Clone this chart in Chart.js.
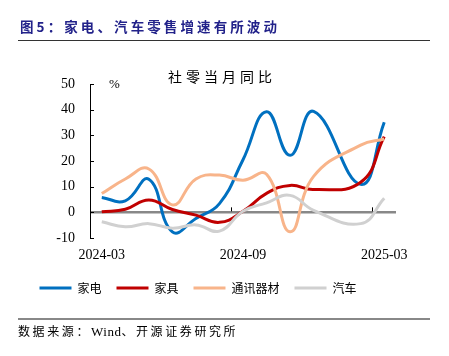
<!DOCTYPE html>
<html>
<head>
<meta charset="utf-8">
<script src="https://cdn.jsdelivr.net/npm/chart.js@4.4.1/dist/chart.umd.min.js"></script>
<style>
  html, body { margin: 0; padding: 0; background: #fff; }
  #wrap { position: relative; width: 449px; height: 356px; overflow: hidden; }
  #c { position: absolute; left: 0; top: 0; }
  .txt { position: absolute; white-space: nowrap; }
  #hdr { left: 20px; top: 16px; font: bold 13.5px "Noto Sans CJK SC"; letter-spacing: 3.1px; color: #22228a; }
  #rule1 { position: absolute; left: 18px; top: 40px; width: 412px; height: 1px; background: #333; }
  #rule2 { position: absolute; left: 18px; top: 318px; width: 412px; height: 2px; background: #888; }
  #src { left: 18px; top: 322px; font: 12px "Noto Sans CJK SC"; letter-spacing: 2.6px; color: #000; }
  #src .w { font-family: "Liberation Serif"; font-size: 13px; letter-spacing: 0.5px; }
  #ttl { left: 168px; top: 66px; font: 14px "Noto Sans CJK SC"; letter-spacing: 4px; color: #000; }
  #pct { left: 109px; top: 76px; font: 13px "Liberation Serif"; color: #000; }
</style>
</head>
<body>
<div id="wrap">
  <canvas id="c" width="449" height="356"></canvas>
  <div class="txt" id="hdr">图5：家电、汽车零售增速有所波动</div>
  <div id="rule1"></div>
  <div class="txt" id="ttl">社零当月同比</div>
  <div class="txt" id="pct">%</div>
  <div id="rule2"></div>
  <div class="txt" id="src">数据来源：<span class="w">Wind</span>、开源证券研究所</div>
</div>
<script>
const months = ['2024-03','2024-04','2024-05','2024-06','2024-07','2024-08','2024-09','2024-10','2024-11','2024-12','2025-01','2025-02','2025-03'];
const tickMonths = ['2024-03','2024-09','2025-03'];
const seriesNames = ['家电','家具','通讯器材','汽车'];
const appliances = [5.8, 4.5, 12.9, -7.6, -2.4, 3.4, 20.5, 39.2, 22.2, 39.3, null, 10.9, 35.1];
const furniture  = [0.2, 1.2, 4.8, 1.1, -1.1, -3.9, 0.4, 7.4, 10.5, 8.9, null, 11.7, 29.5];
const telecom    = [7.3, 13.0, 16.9, 2.9, 13.0, 14.5, 12.5, 14.8, -7.6, 14.0, null, 26.2, 28.6];
const autos      = [-3.7, -5.6, -4.4, -6.2, -4.9, -7.3, 0.4, 3.7, 6.6, 0.8, null, -4.4, 5.5];
const yTicks = [-10, 0, 10, 20, 30, 40, 50];

const colors = ['#0070C0', '#C00000', '#F8B48A', '#D0D0D0'];
const seriesData = [appliances, furniture, telecom, autos];

const tickPlugin = {
  id: 'innerTicks',
  afterDatasetsDraw(chart) {
    const ctx = chart.ctx;
    const x = chart.scales.x, y = chart.scales.y;
    ctx.save();
    ctx.strokeStyle = '#000';
    ctx.lineWidth = 1;
    y.ticks.forEach((t, i) => {
      const py = Math.round(y.getPixelForTick(i)) + 0.5;
      ctx.beginPath();
      ctx.moveTo(x.left, py);
      ctx.lineTo(x.left + 4, py);
      ctx.stroke();
    });
    const half = (x.getPixelForValue(1) - x.getPixelForValue(0)) / 2;
    const zy = y.getPixelForValue(0);
    months.forEach((m, i) => {
      if (tickMonths.includes(m) && i > 0) {
        const px = Math.round(x.getPixelForValue(i) - half) + 0.5;
        ctx.beginPath();
        ctx.moveTo(px, zy - 1);
        ctx.lineTo(px, zy - 5);
        ctx.stroke();
      }
    });
    ctx.restore();
  }
};

new Chart(document.getElementById('c'), {
  type: 'line',
  data: {
    labels: months,
    datasets: seriesNames.map((n, k) => ({
      label: n,
      data: seriesData[k],
      borderColor: colors[k],
      backgroundColor: colors[k],
      borderWidth: 3,
      pointRadius: 0,
      tension: 0.45,
      spanGaps: true,
      order: 3 - k
    }))
  },
  options: {
    responsive: false,
    animation: false,
    layout: { padding: { left: 0, right: 53, top: 84, bottom: 52 } },
    plugins: {
      tooltip: { enabled: false },
      legend: {
        position: 'bottom',
        labels: {
          boxWidth: 32,
          boxHeight: 3,
          padding: 15,
          color: '#000',
          font: { family: 'Noto Sans CJK SC', size: 12 },
          generateLabels(chart) {
            return chart.data.datasets.map((d, i) => ({
              text: d.label,
              fillStyle: d.borderColor,
              strokeStyle: d.borderColor,
              lineWidth: 0,
              hidden: false,
              datasetIndex: i
            }));
          }
        }
      }
    },
    scales: {
      x: {
        offset: true,
        afterFit(s) { s.height = 29; },
        border: { display: false },
        grid: { display: false, drawTicks: false },
        ticks: {
          autoSkip: false, maxRotation: 0, padding: 9, color: '#000',
          font: { family: 'Liberation Serif', size: 14 },
          callback(v, i) { return tickMonths.includes(months[i]) ? months[i] : ''; }
        }
      },
      y: {
        min: -10, max: 50,
        afterFit(s) { s.width = 90; },
        afterBuildTicks(s) { s.ticks = yTicks.map(v => ({ value: v })); },
        border: { display: true, color: '#000', width: 1 },
        grid: {
          drawTicks: false,
          lineWidth: (c) => (c.tick && c.tick.value === 0 ? 2.5 : 0),
          color: (c) => (c.tick && c.tick.value === 0 ? '#888' : 'rgba(0,0,0,0)')
        },
        ticks: {
          padding: 15, color: '#000',
          font: { family: 'Liberation Serif', size: 14 }
        }
      }
    }
  },
  plugins: [tickPlugin]
});
</script>
</body>
</html>
